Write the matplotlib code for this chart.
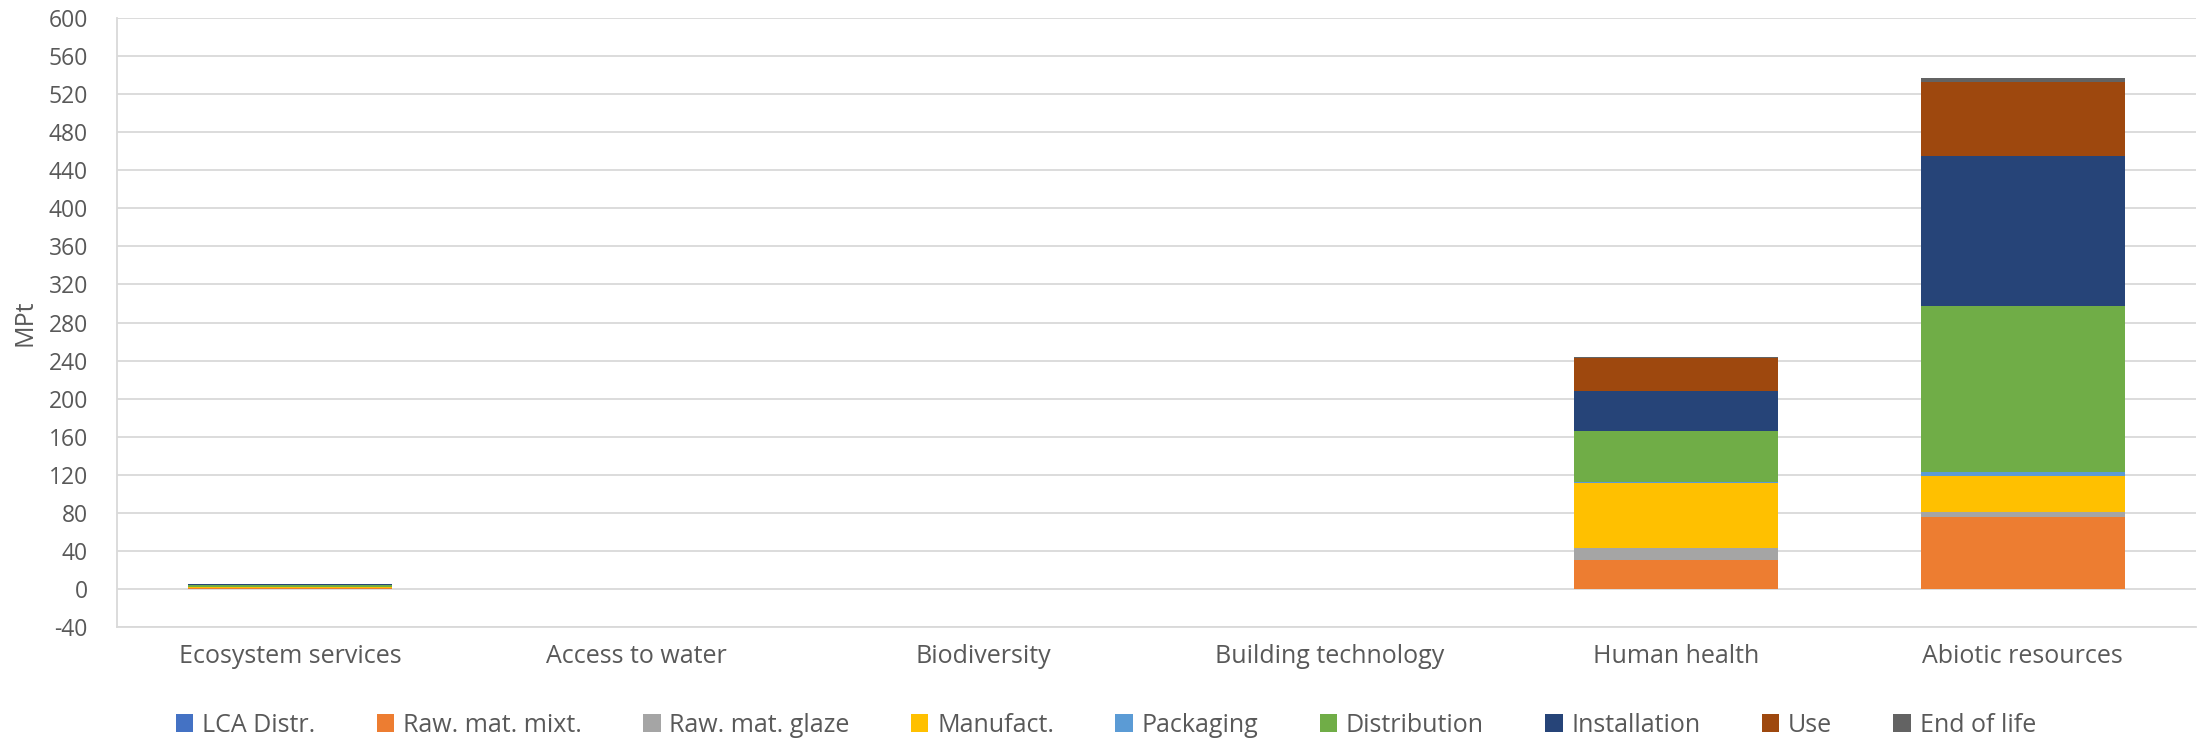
import matplotlib
matplotlib.use("Agg")
import matplotlib.pyplot as plt
import numpy as np

categories = ["Ecosystem services", "Access to water", "Biodiversity",
              "Building technology", "Human health", "Abiotic resources"]
series_names = ["LCA Distr.", "Raw. mat. mixt.", "Raw. mat. glaze", "Manufact.",
                "Packaging", "Distribution", "Installation", "Use", "End of life"]

lca_distr    = [0.0, 0, 0, 0, 0.0, 0.0]
raw_mixt     = [0.5, 0, 0, 0, 30.5, 75.6]
raw_glaze    = [0.3, 0, 0, 0, 12.3, 4.9]
manufact     = [1.5, 0, 0, 0, 68.8, 38.7]
packaging    = [0.1, 0, 0, 0, 0.7, 3.7]
distribution = [2.0, 0, 0, 0, 53.7, 174.1]
installation = [0.3, 0, 0, 0, 41.7, 157.9]
use          = [0.5, 0, 0, 0, 35.1, 77.8]
end_of_life  = [0.4, 0, 0, 0, 0.5, 4.5]

colors = ["#4472C4", "#ED7D31", "#A5A5A5", "#FFC000", "#5B9BD5",
          "#70AD47", "#264478", "#9E480E", "#636363"]

yticks = list(range(-40, 601, 40))

series = [lca_distr, raw_mixt, raw_glaze, manufact, packaging,
          distribution, installation, use, end_of_life]

plt.rcParams['font.family'] = ['Open Sans', 'DejaVu Sans']
fig = plt.figure(figsize=(22.03, 7.43), dpi=100)
ax = fig.add_axes([117/2203, 1 - 627/743, (2196-117)/2203, (627-18)/743])

x = np.arange(len(categories))
bottom = np.zeros(len(categories))
for name, vals, c in zip(series_names, series, colors):
    v = np.array(vals, dtype=float)
    ax.bar(x, v, width=0.59, bottom=bottom, color=c, label=name, zorder=3)
    bottom += v

ax.set_ylim(-40, 600)
ax.set_xlim(-0.5, len(categories) - 0.5)
ax.set_yticks(yticks)
ax.set_yticklabels([str(t) for t in yticks])
ax.yaxis.grid(True, color="#d9d9d9", linewidth=1.3, zorder=0)
ax.set_axisbelow(True)
for s in ["top", "right"]:
    ax.spines[s].set_visible(False)
ax.spines["left"].set_color("#d9d9d9")
ax.spines["bottom"].set_color("#d9d9d9")
ax.spines["left"].set_linewidth(1.3)
ax.spines["bottom"].set_linewidth(1.3)
ax.tick_params(axis="y", length=0, labelsize=16.5, labelcolor="#595959", pad=21)
ax.tick_params(axis="x", length=0, labelsize=18, labelcolor="#595959", pad=12)
ax.set_xticks(x)
ax.set_xticklabels(categories)
ax.set_ylabel("MPt", fontsize=18, color="#595959", labelpad=8)

leg = fig.legend(loc="center", bbox_to_anchor=(0.502, 1 - 725/743), ncol=9,
                 frameon=False, fontsize=18, handlelength=0.7, handleheight=0.7,
                 handletextpad=0.35, columnspacing=2.45)
for t in leg.get_texts():
    t.set_color("#595959")

fig.savefig("out.png", dpi=100)
